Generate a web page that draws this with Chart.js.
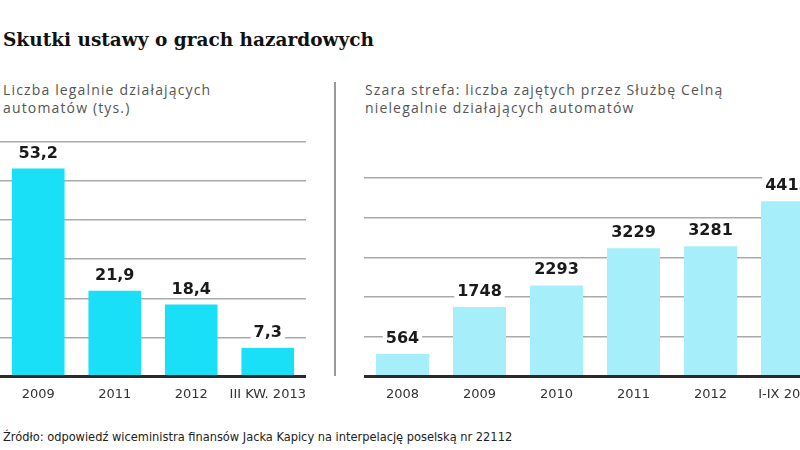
<!DOCTYPE html>
<html>
<head>
<meta charset="utf-8">
<script src="https://cdn.jsdelivr.net/npm/chart.js@4"></script>
<style>
  html, body { margin: 0; padding: 0; background: #fff; }
  body { width: 800px; height: 450px; overflow: hidden; position: relative; }
  .title { position: absolute; left: 3px; top: 29px; font: bold 18.5px "DejaVu Serif", serif; color: #111; white-space: nowrap; }
  .sub { position: absolute; font: 14px "Open Sans", sans-serif; line-height: 18px; letter-spacing: 1.15px; color: #555; white-space: nowrap; }
  .src { position: absolute; left: 3px; top: 429px; font: 12.7px "DejaVu Sans Condensed", sans-serif; color: #222; white-space: nowrap; }
  .sep { position: absolute; left: 334px; top: 82px; width: 2px; height: 294px; background: #999; }
  .box { position: absolute; }
</style>
</head>
<body>
<div class="title">Skutki ustawy o grach hazardowych</div>
<div class="sub" style="left:3px; top:81px;">Liczba legalnie działających<br>automatów (tys.)</div>
<div class="sub" style="left:365px; top:81px;">Szara strefa: liczba zajętych przez Służbę Celną<br>nielegalnie działających automatów</div>
<div class="sep"></div>
<div class="box" style="left:0px; top:120px; width:335px; height:292px;"><canvas id="legalne"></canvas></div>
<div class="box" style="left:364px; top:120px; width:470px; height:292px;"><canvas id="szara"></canvas></div>
<div class="src">Źródło: odpowiedź wiceministra finansów Jacka Kapicy na interpelację poselską nr 22112</div>

<script>
// lewy wykres: legalne automaty (tys.)
const legalLabels = ["2009", "2011", "2012", "III KW. 2013"];
const legalValues = [53.2, 21.9, 18.4, 7.3];
const legalMax = 60;
const legalStep = 10;

// prawy wykres: automaty zajęte przez Służbę Celną
const greyLabels = ["2008", "2009", "2010", "2011", "2012", "I-IX 2013"];
const greyValues = [564, 1748, 2293, 3229, 3281, 4413];
const greyMax = 5000;
const greyStep = 1000;

const valueLabels = {
  id: "valueLabels",
  afterDatasetsDraw(chart) {
    const ctx = chart.ctx;
    const meta = chart.getDatasetMeta(0);
    ctx.save();
    ctx.font = "bold 16px 'DejaVu Sans', sans-serif";
    ctx.textAlign = "center";
    ctx.textBaseline = "alphabetic";
    meta.data.forEach((bar, i) => {
      const text = String(chart.data.datasets[0].data[i]).replace(".", ",");
      const w = ctx.measureText(text).width;
      const y = bar.y - 11;
      ctx.fillStyle = "#fff";
      ctx.fillRect(bar.x - w / 2 - 3, y - 14, w + 6, 17);
      ctx.fillStyle = "#1a1a1a";
      ctx.fillText(text, bar.x, y);
    });
    ctx.restore();
  }
};

function makeChart(id, labels, values, color, max, step, padTop, padRight) {
  return new Chart(document.getElementById(id), {
    type: "bar",
    data: {
      labels: labels,
      datasets: [{
        data: values,
        backgroundColor: color,
        borderWidth: 0,
        barPercentage: 0.86,
        categoryPercentage: 0.8
      }]
    },
    options: {
      responsive: true,
      maintainAspectRatio: false,
      animation: false,
      layout: { padding: { top: padTop, right: padRight, left: 0, bottom: 0 } },
      plugins: { legend: { display: false }, tooltip: { enabled: false } },
      scales: {
        x: {
          grid: { display: false, drawTicks: false },
          border: { display: false },
          ticks: { color: "#333", padding: 10, maxRotation: 0, autoSkip: false,
                   font: { family: "'DejaVu Sans', sans-serif", size: 13 } }
        },
        y: {
          min: 0,
          max: max,
          ticks: { display: false, stepSize: step },
          border: { display: false },
          grid: {
            drawTicks: false,
            color: c => c.tick.value === 0 ? "#2a2a2a" : "#aaa",
            lineWidth: c => c.tick.value === 0 ? 3 : 1.5
          }
        }
      }
    },
    plugins: [valueLabels]
  });
}

makeChart("legalne", legalLabels, legalValues, "#1ae0f7", legalMax, legalStep, 22, 29);
makeChart("szara", greyLabels, greyValues, "#a6effa", greyMax, greyStep, 58, 8);
</script>
</body>
</html>
